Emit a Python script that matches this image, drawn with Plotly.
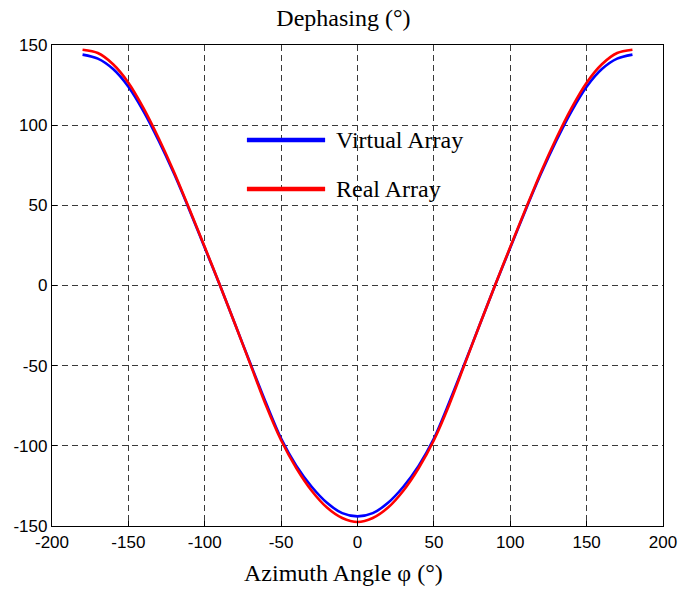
import plotly.graph_objects as go

azimuth = [-180, -170, -160, -150, -140, -130, -120, -110, -100, -90, -80, -70, -60, -50, -40, -30, -20, -10,
           0, 10, 20, 30, 40, 50, 60, 70, 80, 90, 100, 110, 120, 130, 140, 150, 160, 170, 180]
virtual_array = [144, 141.5, 135, 124, 108.5, 90, 69.5, 47, 23.5, 0, -24.5, -49, -73, -95.5, -112.5, -125.5, -135.5, -142,
                 -144, -142, -135.5, -125.5, -112.5, -95.5, -73, -49, -24.5, 0, 23.5, 47, 69.5, 90, 108.5, 124, 135, 141.5, 144]
real_array = [147, 145, 138, 126.5, 110.5, 91.5, 70.5, 47.5, 24, 0, -24.5, -49.5, -74.5, -96.5, -114, -128, -138.5, -145,
              -147.5, -145, -138.5, -128, -114, -96.5, -74.5, -49.5, -24.5, 0, 24, 47.5, 70.5, 91.5, 110.5, 126.5, 138, 145, 147]

series_names = ["Virtual Array", "Real Array"]
series_colors = ["#0000FF", "#FF0000"]
x_ticks = [-200, -150, -100, -50, 0, 50, 100, 150, 200]
y_ticks = [-150, -100, -50, 0, 50, 100, 150]

SERIF = "Liberation Serif, Times New Roman, serif"
SANS = "Liberation Sans, Arial, sans-serif"

fig = go.Figure()
for vals, name, col in zip([virtual_array, real_array], series_names, series_colors):
    fig.add_trace(go.Scatter(x=azimuth, y=vals, mode="lines", name=name,
                             line=dict(color=col, width=2.6, shape="spline", smoothing=0.8),
                             showlegend=False))

axis_common = dict(showline=True, linecolor="black", linewidth=1.3, mirror=True,
                   showgrid=True, gridcolor="#3a3a3a", gridwidth=1, griddash="6px,4px",
                   zeroline=False, ticks="inside", ticklen=5, tickcolor="black", automargin=False,
                   tickfont=dict(family=SANS, size=17, color="black"))

fig.update_xaxes(range=[-200, 200], tickvals=x_ticks, ticktext=[str(v) for v in x_ticks], **axis_common)
fig.update_yaxes(range=[-150, 150], tickvals=y_ticks, ticktext=[str(v) for v in y_ticks], **axis_common)

# x-axis title
fig.add_annotation(xref="paper", yref="paper", x=0.477, y=-0.0977, text="Azimuth Angle φ (°)",
                   showarrow=False, xanchor="center", yanchor="middle",
                   font=dict(family=SERIF, size=24, color="black"))

# legend drawn manually (MATLAB-style, no box)
legend_y = [0.8025, 0.7006]
for ly, name, col in zip(legend_y, series_names, series_colors):
    fig.add_shape(type="line", xref="paper", yref="paper", x0=0.319, x1=0.447, y0=ly, y1=ly,
                  line=dict(color=col, width=4.5))
    fig.add_annotation(xref="paper", yref="paper", x=0.462, y=ly, text=name, showarrow=False,
                       xanchor="left", yanchor="middle",
                       font=dict(family=SERIF, size=24, color="black"))

fig.update_layout(
    width=680, height=590,
    margin=dict(l=52, r=17, t=45, b=64),
    paper_bgcolor="white", plot_bgcolor="white",
    title=dict(text="Dephasing (°)", x=0.477, xref="paper", xanchor="center", y=1 - 18/590, yanchor="middle",
               font=dict(family=SERIF, size=24, color="black")),
)

fig.write_html("out.html")
